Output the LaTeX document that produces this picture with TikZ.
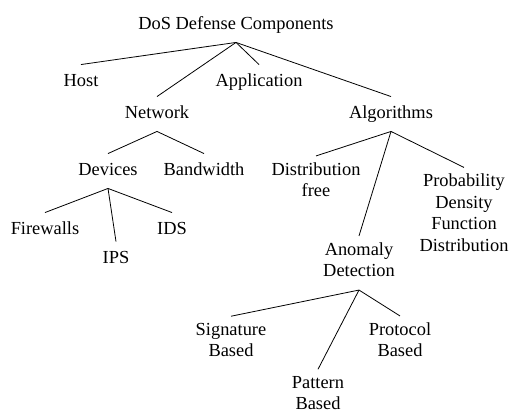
\documentclass[tikz,border=0pt]{standalone}
\usepackage{fontspec}
\setmainfont{Liberation Serif}
\usepackage{tikz}

\begin{document}
\begin{tikzpicture}[x=1pt,y=-1pt,
    comp/.style={align=center,inner sep=6.5pt,
      font=\fontsize{18.4}{21.5}\selectfont,
      execute at begin node=\strut,execute at end node=\strut},
    link/.style={line width=0.8pt}]
    \useasboundingbox (0,0) rectangle (512,411);
    % levels of the tree
    \node[comp] (root) at (236,25) {DoS Defense Components};
    \node[comp] (host) at (81,82) {Host};
    \node[comp] (appl) at (259,82) {Application};
    \node[comp] (netw) at (157,114) {Network};
    \node[comp] (algo) at (391,114) {Algorithms};
    \node[comp] (devi) at (108,171) {Devices};
    \node[comp] (band) at (204,171) {Bandwidth};
    \node[comp] (dfree) at (316,183) {Distribution\\free};
    \node[comp] (pdf) at (464,216) {Probability\\Density\\Function\\Distribution};
    \node[comp] (fire) at (45,230) {Firewalls};
    \node[comp] (ids) at (172,230) {IDS};
    \node[comp] (ips) at (116,259) {IPS};
    \node[comp] (anom) at (359,263) {Anomaly\\Detection};
    \node[comp] (sig) at (231,343) {Signature\\Based};
    \node[comp] (prot) at (400,343) {Protocol\\Based};
    \node[comp] (patt) at (318,396) {Pattern\\Based};
    % connectors
    \foreach \p/\c in {root/host,root/netw,root/appl,root/algo,
        netw/devi,netw/band,devi/fire,devi/ips,devi/ids,
        algo/dfree,algo/anom,algo/pdf,anom/sig,anom/patt,anom/prot}
      \draw[link] (\p.south) -- (\c.north);
\end{tikzpicture}
\end{document}
